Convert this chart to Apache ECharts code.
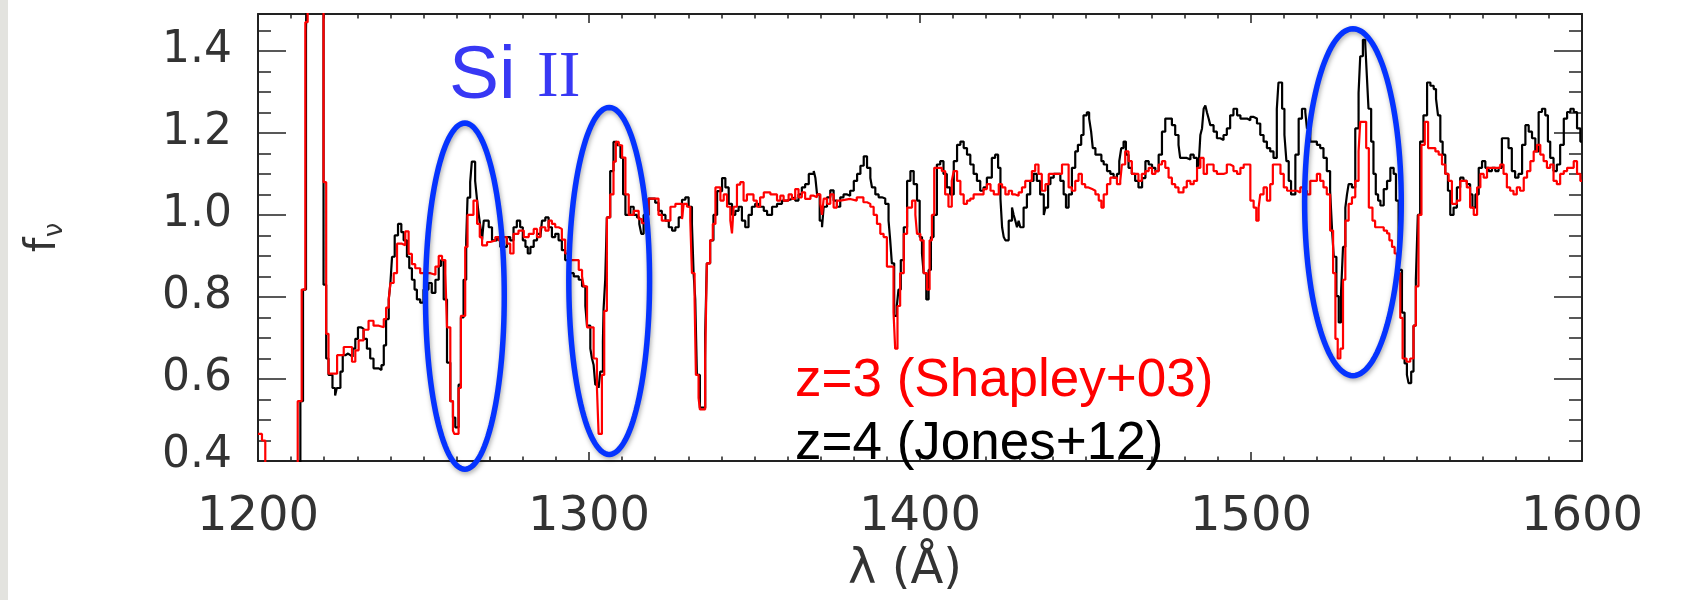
<!DOCTYPE html>
<html>
<head>
<meta charset="utf-8">
<script src="https://cdn.jsdelivr.net/npm/echarts/dist/echarts.min.js"></script>
<style>
html,body{margin:0;padding:0;background:#fff;}
#chart{width:1689px;height:600px;}
</style>
</head>
<body>
<div id="chart"></div>
<script>
// ---------- DATA ----------
const xTickValues = [1200, 1300, 1400, 1500, 1600];
const yTickValues = [0.4, 0.6, 0.8, 1.0, 1.2, 1.4];
const seriesNames = ['z=4 (Jones+12)', 'z=3 (Shapley+03)'];
const annotationLabel = ['Si', 'II'];
const axisTitles = ['λ (Å)', 'f', 'ν'];

// z=3 composite (Shapley+03), [wavelength (Å), f_nu] — step function, level starts at given wavelength
const redSpectrum = [
[1200,0.466],[1201.2,0.45],[1202.2,0.3],[1212.0,0.546],[1213.2,0.818],[1214.3,1.47],[1215.0,1.7],[1219.8,1.08],[1220.6,0.71],[1221.3,0.613],[1223.9,0.658],[1225.9,0.678],[1228.4,0.642],[1229.4,0.67],[1230.4,0.694],[1231.9,0.72],[1233.4,0.742],[1234.9,0.73],[1236.5,0.726],[1238.0,0.746],[1238.7,0.774],[1239.5,0.794],[1240.0,0.834],[1241.0,0.858],[1242.0,0.93],[1243.5,0.926],[1244.5,0.96],[1245.5,0.905],[1246.5,0.88],[1247.5,0.87],[1249.0,0.858],[1252.1,0.854],[1253.6,0.874],[1254.6,0.9],[1255.6,0.89],
[1256.6,0.858],[1257.1,0.726],[1258.1,0.546],[1258.9,0.474],[1259.3,0.466],[1260.6,0.578],[1261.3,0.754],[1262.6,0.922],[1263.3,1.0],[1265.1,1.035],[1266.2,0.978],[1267.0,0.946],[1267.7,0.926],[1269.2,0.934],[1270.2,0.938],[1271.7,0.946],[1272.7,0.938],[1273.7,0.946],[1275.2,0.93],[1276.2,0.906],[1277.2,0.954],[1278.7,0.962],[1280.3,0.946],[1281.8,0.954],[1283.3,0.966],[1284.3,0.946],[1285.3,0.97],[1286.8,0.962],[1287.8,0.986],[1288.8,0.978],[1289.8,0.97],[1290.8,0.966],[1291.8,0.94],[1292.8,0.906],[1293.9,0.89],[1296.9,0.866],[1297.9,0.85],[1298.4,0.826],[1299.4,0.726],[1301.4,0.65],[1302.4,0.578],[1302.9,0.466],[1303.9,0.61],[1304.6,0.766],[1305.4,0.994],[1306.4,1.05],[1307.4,1.13],[1308.1,1.178],[1309.0,1.17],[1310.0,1.14],[1311.0,1.05],
[1312.0,1.0],[1313.5,1.01],[1315.0,0.99],[1316.0,0.98],[1317.0,1.0],[1318.0,1.04],[1321.0,1.0],[1322.0,0.986],[1324.6,1.02],[1326.1,1.027],[1328.1,0.99],[1328.6,1.027],[1329.6,1.02],[1330.6,0.986],[1331.1,0.858],[1331.9,0.794],[1332.3,0.61],[1333.1,0.554],[1333.5,0.526],[1335.1,0.65],[1335.6,0.882],[1336.6,0.938],[1337.4,0.978],[1338.2,1.067],[1339.7,1.035],[1340.7,1.05],[1341.7,1.02],[1342.7,0.986],[1343.2,0.955],[1343.7,1.02],[1344.7,1.074],[1345.7,1.08],[1346.7,1.035],[1347.7,1.05],[1349.7,1.035],[1350.7,1.02],[1351.7,1.043],[1352.8,1.055],[1354.8,1.05],[1356.8,1.035],[1357.8,1.047],[1358.8,1.035],[1360.3,1.05],[1361.3,1.039],[1362.3,1.063],[1363.3,1.043],[1364.3,1.055],[1365.3,1.039],[1366.9,1.047],
[1367.9,1.043],[1368.9,1.05],[1369.9,1.027],[1370.4,1.0],[1370.9,1.04],[1371.9,1.027],[1372.9,1.05],[1373.9,1.018],[1374.9,1.035],[1375.9,1.039],[1378.9,1.035],[1380.9,1.043],[1382.9,1.031],[1384.0,1.027],[1385.0,1.02],[1386.0,1.0],[1387.0,0.978],[1388.0,0.954],[1389.0,0.946],[1390.0,0.874],[1392.0,0.762],[1392.5,0.674],[1393.2,0.778],[1394.0,0.858],[1395.1,0.954],[1396.1,1.018],[1397.6,1.035],[1398.6,1.0],[1399.1,0.954],[1400.1,0.938],[1401.1,0.858],[1402.1,0.818],[1402.9,0.938],[1403.6,1.0],[1404.3,1.115],[1406.6,1.107],[1407.6,1.05],[1408.6,1.02],[1409.6,1.083],[1410.2,1.107],[1411.2,1.083],[1412.2,1.05],[1413.2,1.027],[1414.2,1.035],[1415.2,1.04],[1416.2,1.05],[1419.2,1.063],[1420.2,1.075],[1421.3,1.059],[1422.3,1.05],
[1423.8,1.075],[1424.8,1.067],[1425.8,1.05],[1426.8,1.059],[1427.8,1.05],[1428.8,1.047],[1429.8,1.055],[1430.8,1.067],[1431.8,1.083],[1433.8,1.107],[1434.8,1.123],[1435.8,1.1],[1436.8,1.059],[1437.9,1.075],[1438.9,1.1],[1442.9,1.123],[1444.9,1.067],[1445.9,1.059],[1446.9,1.083],[1447.9,1.1],[1448.9,1.075],[1449.9,1.067],[1450.9,1.063],[1452.0,1.059],[1453.0,1.05],[1454.0,1.035],[1454.8,1.018],[1455.5,1.05],[1456.5,1.075],[1457.5,1.091],[1459.5,1.075],[1460.5,1.083],[1461.0,1.123],[1462.0,1.155],[1463.0,1.131],[1464.0,1.1],[1466.0,1.083],[1467.0,1.1],[1468.1,1.107],[1469.1,1.115],[1470.1,1.1],[1471.1,1.107],[1472.1,1.123],[1473.1,1.131],[1474.1,1.115],[1475.1,1.091],[1476.1,1.075],[1477.1,1.067],[1478.1,1.055],
[1479.6,1.067],[1480.6,1.083],[1481.7,1.075],[1482.7,1.083],[1483.7,1.115],[1484.7,1.139],[1485.7,1.1],[1486.7,1.123],[1488.7,1.107],[1489.7,1.1],[1491.7,1.103],[1492.7,1.123],[1493.7,1.119],[1494.7,1.107],[1495.8,1.1],[1496.8,1.115],[1497.8,1.123],[1499.8,1.035],[1500.8,1.018],[1501.6,0.986],[1502.3,1.018],[1502.8,1.05],[1503.8,1.067],[1504.8,1.035],[1505.8,1.075],[1506.6,1.123],[1508.9,1.1],[1509.9,1.067],[1510.9,1.059],[1513.9,1.055],[1514.9,1.067],[1515.9,1.059],[1516.9,1.05],[1517.9,1.083],[1519.9,1.1],[1520.9,1.083],[1521.9,1.067],[1522.9,1.05],[1523.9,0.962],[1524.8,0.858],[1525.5,0.698],[1526.2,0.65],[1527.0,0.674],[1527.8,0.842],[1528.5,0.986],[1529.5,1.027],[1530.5,1.043],[1531.5,1.083],[1532.5,1.155],[1533.0,1.227],
[1534.8,1.163],[1535.6,1.018],[1536.7,0.986],[1537.5,0.97],[1540.1,0.962],[1541.1,0.955],[1541.8,0.938],[1542.6,0.922],[1543.4,0.906],[1544.1,0.858],[1545.1,0.749],[1545.8,0.65],[1547.0,0.642],[1548.1,0.65],[1549.1,0.73],[1549.8,0.826],[1550.6,1.0],[1551.5,1.171],[1552.5,1.227],[1553.5,1.163],[1555.7,1.155],[1556.7,1.147],[1557.7,1.123],[1558.7,1.1],[1559.7,1.083],[1560.7,1.027],[1562.2,1.035],[1563.2,1.083],[1565.2,1.067],[1566.2,1.018],[1567.3,1.0],[1568.3,1.067],[1569.3,1.1],[1570.3,1.091],[1571.3,1.115],[1575.3,1.123],[1576.3,1.1],[1577.3,1.067],[1578.3,1.059],[1579.3,1.05],[1580.3,1.067],[1581.3,1.059],[1582.4,1.091],[1583.4,1.107],[1584.4,1.131],[1585.4,1.155],[1586.4,1.171],[1587.4,1.147],[1588.4,1.131],[1589.4,1.115],[1590.4,1.123],[1591.4,1.083],[1592.4,1.075],[1593.4,1.1],[1594.5,1.107],[1595.5,1.115],[1597.5,1.131],[1598.5,1.1],[1599.5,1.083],[1600,1.083]
];

// z=4 composite (Jones+12)
const blackSpectrum = [
[1211.5,0.3],[1212.8,0.546],[1213.6,0.818],[1214.5,1.45],[1215.0,1.7],[1219.8,0.83],[1220.6,0.65],[1221.3,0.61],[1222.5,0.578],[1223.3,0.56],[1223.8,0.578],[1224.9,0.618],[1225.6,0.658],[1226.4,0.662],[1227.2,0.658],[1227.9,0.654],[1228.6,0.674],[1229.4,0.698],[1230.2,0.726],[1231.2,0.722],[1231.9,0.698],[1232.9,0.674],[1233.9,0.65],[1234.9,0.626],[1236.5,0.622],[1237.3,0.634],[1238.0,0.682],[1238.7,0.746],[1239.5,0.794],[1240.0,0.834],[1240.5,0.898],[1241.3,0.95],[1242.3,0.978],[1243.3,0.958],[1244.0,0.938],[1245.0,0.898],[1245.7,0.87],[1246.5,0.842],[1247.3,0.818],[1248.0,0.794],[1249.0,0.786],[1250.0,0.818],[1251.5,0.834],[1252.5,0.81],[1253.6,0.842],[1254.6,0.876],[1255.3,0.89],
[1256.1,0.794],[1257.1,0.64],[1258.1,0.546],[1258.9,0.506],[1259.6,0.482],[1260.6,0.586],[1261.3,0.75],[1262.1,0.842],[1262.9,0.938],[1263.3,1.042],[1264.1,1.08],[1264.6,1.13],[1265.6,1.083],[1266.2,1.035],[1266.7,1.0],[1267.2,0.97],[1267.7,0.94],[1268.2,0.986],[1269.7,0.97],[1270.7,0.938],[1272.2,0.946],[1273.2,0.922],[1275.2,0.946],[1276.2,0.938],[1277.2,0.97],[1278.2,0.986],[1279.2,0.97],[1280.0,0.938],[1280.8,0.922],[1281.5,0.906],[1282.3,0.922],[1283.3,0.938],[1284.3,0.954],[1285.3,0.946],[1285.8,0.986],[1286.8,0.994],[1287.8,0.97],[1288.8,0.946],[1289.8,0.954],[1290.8,0.938],[1291.8,0.914],[1292.8,0.89],[1293.9,0.858],[1295.4,0.85],[1296.9,0.842],[1297.9,0.826],[1298.9,0.778],[1299.4,0.73],[1300.4,0.674],[1300.9,0.65],[1301.4,0.634],[1301.9,0.586],[1302.9,0.578],[1303.4,0.618],[1304.2,0.69],[1304.4,0.77],[1304.9,0.842],[1305.4,0.994],[1306.4,1.107],[1307.4,1.178],[1308.4,1.17],[1309.5,1.14],[1310.3,1.05],[1311.0,1.0],
[1312.5,1.02],[1313.5,1.0],[1314.5,0.994],[1315.2,0.978],[1315.8,0.954],[1316.5,1.0],[1318.0,1.04],[1320.0,1.03],[1321.0,1.01],[1322.0,1.0],[1323.1,0.986],[1324.1,0.97],[1325.1,0.962],[1326.1,0.97],[1327.1,0.994],[1328.1,1.037],[1329.1,1.043],[1330.1,1.02],[1331.1,0.978],[1331.6,0.858],[1332.1,0.794],[1332.6,0.61],[1333.5,0.53],[1335.1,0.71],[1335.6,0.882],[1336.6,0.938],[1337.6,1.0],[1338.7,1.058],[1340.2,1.09],[1341.2,1.067],[1342.2,1.027],[1343.2,1.0],[1344.2,1.01],[1345.2,1.02],[1346.2,0.986],[1347.2,0.97],[1348.2,1.0],[1349.2,1.02],[1350.2,1.027],[1351.2,1.02],[1352.8,1.01],[1353.8,1.0],[1355.3,1.02],[1356.8,1.027],[1358.3,1.035],[1359.8,1.039],[1361.3,1.043],[1362.3,1.035],[1363.3,1.05],[1364.3,1.067],[1365.3,1.075],[1366.4,1.1],
[1367.9,1.107],[1368.4,1.09],[1368.9,1.05],[1369.7,0.986],[1370.4,0.97],[1370.9,1.02],[1371.9,1.043],[1372.9,1.06],[1373.9,1.035],[1374.9,1.02],[1375.9,1.043],[1376.9,1.05],[1378.0,1.047],[1378.9,1.059],[1380.0,1.083],[1381.0,1.1],[1382.0,1.12],[1383.0,1.143],[1384.0,1.115],[1385.0,1.09],[1385.5,1.067],[1386.5,1.05],[1387.5,1.043],[1388.5,1.04],[1389.5,1.027],[1390.5,0.986],[1391.0,0.938],[1391.5,0.882],[1392.2,0.754],[1393.0,0.778],[1393.5,0.818],[1394.2,0.89],[1395.1,0.97],[1396.1,1.083],[1397.1,1.107],[1398.1,1.075],[1399.1,1.035],[1399.9,0.946],[1400.6,0.906],[1401.1,0.858],[1401.9,0.794],[1402.6,0.866],[1403.3,0.946],[1404.1,1.0],[1405.1,1.123],[1406.1,1.131],[1407.1,1.1],[1408.1,1.067],[1409.1,1.05],[1410.2,1.131],[1411.2,1.171],[1412.2,1.179],[1413.2,1.163],[1414.2,1.147],[1415.2,1.123],[1416.2,1.1],[1417.2,1.083],[1418.2,1.059],[1419.2,1.067],[1420.2,1.091],[1421.7,1.139],[1422.7,1.147],
[1423.6,1.115],[1424.3,1.04],[1424.8,0.97],[1425.3,0.946],[1425.8,0.938],[1426.8,0.986],[1427.8,1.018],[1428.3,1.0],[1428.8,0.986],[1429.3,0.97],[1429.8,0.986],[1430.3,0.97],[1431.3,1.018],[1432.3,1.05],[1433.3,1.083],[1434.3,1.1],[1435.3,1.083],[1436.3,1.05],[1437.4,1.0],[1437.9,1.018],[1438.7,1.075],[1439.4,1.091],[1440.4,1.1],[1442.4,1.083],[1443.4,1.05],[1444.1,1.018],[1444.9,1.05],[1445.9,1.115],[1446.9,1.155],[1447.7,1.171],[1448.7,1.195],[1449.4,1.243],[1450.4,1.25],[1451.1,1.235],[1451.7,1.203],[1452.2,1.163],[1453.0,1.147],[1454.8,1.131],[1455.5,1.123],[1456.5,1.107],[1457.5,1.1],[1458.5,1.091],[1459.5,1.1],[1460.2,1.131],[1460.8,1.163],[1461.5,1.179],[1462.2,1.147],[1463.0,1.115],[1464.0,1.1],[1465.0,1.083],[1466.0,1.067],[1467.1,1.09],[1468.1,1.131],[1469.1,1.123],[1470.1,1.115],[1471.1,1.107],[1472.1,1.147],[1473.1,1.203],[1474.1,1.235],[1476.1,1.219],[1477.1,1.195],[1478.1,1.171],[1478.6,1.139],
[1480.6,1.135],[1481.7,1.147],[1482.7,1.139],[1483.7,1.115],[1484.2,1.123],[1484.7,1.195],[1485.2,1.211],[1485.7,1.259],[1486.2,1.267],[1486.7,1.25],[1487.2,1.235],[1487.7,1.219],[1488.7,1.203],[1489.7,1.187],[1490.7,1.183],[1491.7,1.195],[1492.7,1.211],[1493.7,1.243],[1494.7,1.259],[1495.8,1.243],[1496.8,1.235],[1498.8,1.231],[1499.8,1.239],[1500.8,1.235],[1501.8,1.223],[1502.8,1.195],[1503.8,1.179],[1504.8,1.163],[1505.8,1.155],[1506.8,1.139],[1507.8,1.259],[1508.3,1.323],[1509.4,1.259],[1510.1,1.195],[1510.7,1.131],[1511.4,1.083],[1512.1,1.05],[1513.4,1.147],[1514.4,1.235],[1515.4,1.259],[1516.4,1.251],[1516.9,1.211],[1517.9,1.179],[1519.9,1.171],[1520.9,1.163],[1521.9,1.139],[1522.9,1.107],[1523.9,1.059],[1524.5,0.962],[1525.0,0.898],[1525.8,0.802],[1526.5,0.738],[1527.2,0.81],[1527.8,0.922],[1528.5,1.018],[1529.0,1.05],[1529.5,1.075],[1530.5,1.067],[1531.5,1.211],[1532.5,1.298],[1533.0,1.387],[1533.8,1.427],
[1534.5,1.42],[1535.0,1.339],[1535.5,1.259],[1536.3,1.179],[1537.0,1.1],[1537.7,1.05],[1538.4,1.035],[1539.1,1.023],[1540.1,1.063],[1541.1,1.083],[1542.1,1.115],[1543.1,1.1],[1543.8,1.035],[1544.6,0.866],[1545.6,0.762],[1546.4,0.638],[1547.1,0.61],[1547.6,0.59],[1548.4,0.618],[1549.1,0.73],[1549.8,0.842],[1550.4,1.0],[1551.1,1.179],[1552.1,1.243],[1553.2,1.323],[1554.2,1.315],[1555.2,1.307],[1555.9,1.283],[1556.5,1.243],[1557.2,1.179],[1557.9,1.147],[1558.7,1.1],[1559.5,1.059],[1560.2,1.0],[1561.2,1.018],[1562.2,1.067],[1563.2,1.091],[1564.2,1.083],[1565.2,1.075],[1566.2,1.05],[1566.9,1.018],[1567.8,1.05],[1568.8,1.115],[1569.8,1.131],[1570.8,1.115],[1571.8,1.107],[1572.8,1.115],[1573.8,1.107],[1574.8,1.115],[1575.8,1.187],[1577.8,1.163],[1578.8,1.107],[1579.8,1.091],[1580.8,1.1],[1581.9,1.171],[1582.9,1.219],[1583.9,1.203],[1584.9,1.187],[1585.9,1.155],[1586.9,1.251],[1587.9,1.259],[1588.9,1.243],[1589.7,1.179],[1590.4,1.139],[1591.4,1.107],[1592.4,1.123],[1593.4,1.171],[1594.5,1.235],[1595.5,1.251],[1596.5,1.259],[1597.5,1.251],[1598.5,1.211],[1599.5,1.179],[1600,1.179]
];

// Highlight ellipses (data units): centre wavelength, centre flux, half-width (Å), half-height (flux)
const ellipseCentreWave = [1262.5, 1306.1, 1530.8];
const ellipseCentreFlux = [0.802, 0.839, 1.031];
const ellipseHalfWave   = [11.9, 12.2, 14.6];
const ellipseHalfFlux   = [0.422, 0.423, 0.423];

// ---------- CHART ----------
const chart = echarts.init(document.getElementById('chart'), null, {renderer: 'canvas'});
const AXC = '#222';
const TXC = '#333333';
const labelFont = 'DejaVu Sans';

const ellipseData = ellipseCentreWave.map((w, i) => [w, ellipseCentreFlux[i], ellipseHalfWave[i], ellipseHalfFlux[i]]);

function xAxisDef(pos, showLabel) {
  return {
    type: 'value', position: pos, min: xTickValues[0], max: xTickValues[xTickValues.length - 1], interval: 100,
    axisLine: {show: true, onZero: false, lineStyle: {color: AXC, width: 2}},
    axisTick: {show: true, inside: true, length: 9, lineStyle: {color: AXC, width: 1.5}},
    minorTick: {show: true, splitNumber: 10, length: 4.5, lineStyle: {color: AXC, width: 1.5}},
    splitLine: {show: false}, minorSplitLine: {show: false},
    axisLabel: {show: showLabel, margin: 33, fontFamily: labelFont, fontSize: 48, color: TXC,
                formatter: v => String(v)},
    name: showLabel ? axisTitles[0] : '', nameLocation: 'middle', nameGap: 86,
    nameTextStyle: {fontFamily: labelFont, fontSize: 48, color: TXC, padding: [0, 30, 0, 0]}
  };
}
function yAxisDef(pos, step, tickLen, showLabel, showLine) {
  return {
    type: 'value', position: pos, offset: 0, min: yTickValues[0], max: 1.49, interval: step,
    axisLine: {show: showLine, onZero: false, lineStyle: {color: AXC, width: 2}},
    axisTick: {show: true, inside: true, length: tickLen, lineStyle: {color: AXC, width: 1.5}},
    splitLine: {show: false},
    axisLabel: {
      show: showLabel, margin: 26, showMaxLabel: false,
      fontFamily: labelFont, fontSize: 44, color: TXC,
      formatter: v => (Math.abs(v - yTickValues[0]) < 1e-6 ? '{low|' + v.toFixed(1) + '}' : v.toFixed(1)),
      rich: {low: {fontFamily: labelFont, fontSize: 44, color: TXC, padding: [0, 0, 10, 0]}}
    },
    name: showLabel ? '{f|' + axisTitles[1] + '}{s|' + axisTitles[2] + '}' : '',
    nameLocation: 'middle', nameGap: 190,
    nameTextStyle: {rich: {
      f: {fontFamily: labelFont, fontSize: 42, color: TXC},
      s: {fontFamily: labelFont, fontSize: 26, color: TXC, padding: [22, 0, 0, 0]}
    }}
  };
}

const option = {
  backgroundColor: '#ffffff',
  animation: false,
  grid: {left: 258, right: 107, top: 14, bottom: 133, containLabel: false},
  xAxis: [xAxisDef('bottom', true), xAxisDef('top', false)],
  yAxis: [
    yAxisDef('left', 0.2, 28, true, true),
    yAxisDef('left', 0.05, 13, false, false),
    yAxisDef('right', 0.2, 28, false, true),
    yAxisDef('right', 0.05, 13, false, false)
  ],
  series: [
    {
      name: seriesNames[0], type: 'line', step: 'end', data: blackSpectrum,
      showSymbol: false, symbol: 'none', clip: true, z: 2,
      lineStyle: {color: '#000000', width: 2.2}
    },
    {
      name: seriesNames[1], type: 'line', step: 'end', data: redSpectrum,
      showSymbol: false, symbol: 'none', clip: true, z: 3,
      lineStyle: {color: '#ff0000', width: 2.2}
    },
    {
      type: 'custom', data: ellipseData, clip: false, z: 10, silent: true,
      dimensions: ['wave', 'flux', 'hw', 'hf'], encode: {x: 0, y: 1},
      renderItem: function (params, api) {
        const cx = api.value(0), cy = api.value(1), rx = api.value(2), ry = api.value(3);
        const pts = [];
        const N = 120;
        for (let k = 0; k < N; k++) {
          const t = 2 * Math.PI * k / N;
          pts.push(api.coord([cx + rx * Math.cos(t), cy + ry * Math.sin(t)]));
        }
        return {
          type: 'polygon', shape: {points: pts},
          style: {fill: 'none', stroke: '#0533ff', lineWidth: 5.5,
                  shadowBlur: 5, shadowColor: 'rgba(0,0,0,0.35)', shadowOffsetX: 1, shadowOffsetY: 2}
        };
      }
    }
  ],
  graphic: [
    {type: 'rect', z: -1, shape: {x: 0, y: 0, width: 8, height: 600}, style: {fill: '#e3e3df'}},
    {type: 'text', x: 449, y: 77, z: 20,
     style: {text: annotationLabel[0], font: '75px "Liberation Sans"', fill: '#3838f4',
             textAlign: 'left', align: 'left', textVerticalAlign: 'middle', verticalAlign: 'middle'}},
    {type: 'text', x: 537, y: 79, z: 20,
     style: {text: annotationLabel[1], font: '65px "Liberation Serif"', fill: '#3838f4',
             textAlign: 'left', align: 'left', textVerticalAlign: 'middle', verticalAlign: 'middle'}},
    {type: 'text', x: 795, y: 381, z: 20,
     style: {text: seriesNames[1], font: '53px "Liberation Sans"', fill: '#ff0000',
             textAlign: 'left', align: 'left', textVerticalAlign: 'middle', verticalAlign: 'middle'}},
    {type: 'text', x: 795, y: 444, z: 20,
     style: {text: seriesNames[0], font: '53px "Liberation Sans"', fill: '#000000',
             textAlign: 'left', align: 'left', textVerticalAlign: 'middle', verticalAlign: 'middle'}}
  ]
};
chart.setOption(option);
</script>
</body>
</html>
